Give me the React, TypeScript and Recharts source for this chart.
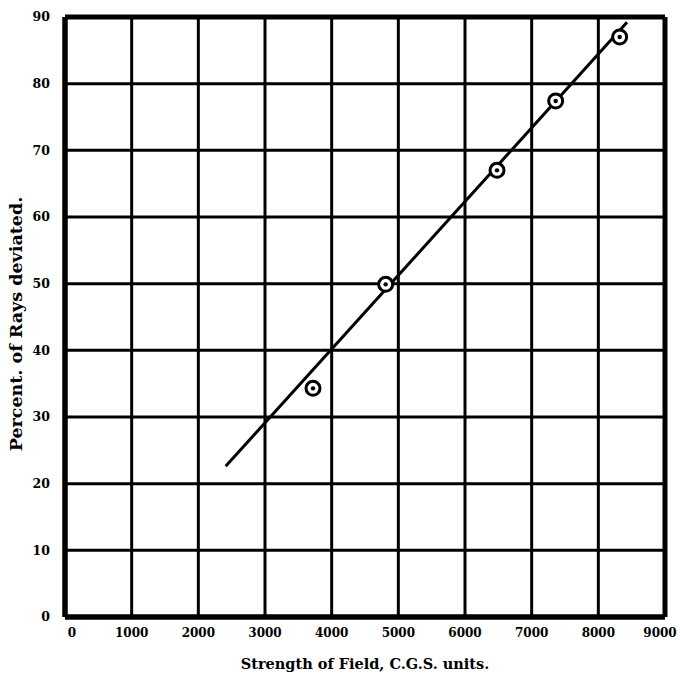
import {
  ComposedChart,
  Scatter,
  Line,
  XAxis,
  YAxis,
  CartesianGrid,
  ReferenceLine,
} from "recharts";

const fieldStrength = [3720, 4810, 6480, 7360, 8320];
const percentDeviated = [34.3, 49.9, 67.0, 77.4, 87.0];

const fitX = [2410, 8430];
const fitY = [22.6, 89.2];

const xTicks = [0, 1000, 2000, 3000, 4000, 5000, 6000, 7000, 8000, 9000];
const yTicks = [0, 10, 20, 30, 40, 50, 60, 70, 80, 90];

const points = fieldStrength.map((x, i) => ({ x, y: percentDeviated[i] }));
const fitLine = fitX.map((x, i) => ({ x, fit: fitY[i] }));

const font = "'DejaVu Serif', 'Liberation Serif', serif";

const RingDot = (props: any) => {
  const { cx, cy } = props;
  return (
    <g>
      <circle cx={cx} cy={cy} r={7} fill="white" stroke="black" strokeWidth={3} />
      <circle cx={cx} cy={cy} r={2.2} fill="black" />
    </g>
  );
};

// the printed labels sit a little inside the frame at both ends
const XTick = (props: any) => {
  const { x, y, payload } = props;
  let dx = 0;
  if (payload.value === 0) dx = 7;
  if (payload.value === 9000) dx = -5;
  return (
    <text
      x={x + dx}
      y={y}
      dy="0.71em"
      textAnchor="middle"
      fill="black"
      fontFamily={font}
      fontWeight="bold"
      fontSize={12}
    >
      {payload.value}
    </text>
  );
};

const YTitle = () => (
  <text
    x={16}
    y={324}
    transform="rotate(-90 16 324)"
    textAnchor="middle"
    dominantBaseline="central"
    fill="black"
    fontFamily={font}
    fontWeight="bold"
    fontSize={17.5}
  >
    Percent. of Rays deviated.
  </text>
);

const App = () => {
  return (
    <div style={{ position: "absolute", left: 0, top: 0, background: "white" }}>
      <ComposedChart
        width={680}
        height={679}
        margin={{ top: 17, right: 15, bottom: 32, left: 20 }}
      >
        <CartesianGrid stroke="black" strokeWidth={3} fill="white" />
        <XAxis
          type="number"
          dataKey="x"
          domain={[0, 9000]}
          ticks={xTicks}
          interval={0}
          height={30}
          axisLine={{ stroke: "black", strokeWidth: 5 }}
          tickLine={false}
          tickSize={0}
          tickMargin={11}
          tick={<XTick />}
          label={{
            value: "Strength of Field, C.G.S. units.",
            position: "insideBottom",
            offset: -22,
            fill: "black",
            fontFamily: font,
            fontWeight: "bold",
            fontSize: 14.5,
          }}
        />
        <YAxis
          type="number"
          domain={[0, 90]}
          ticks={yTicks}
          interval={0}
          width={45}
          axisLine={{ stroke: "black", strokeWidth: 5 }}
          tickLine={false}
          tickSize={0}
          tickMargin={15}
          tick={{ fill: "black", fontFamily: font, fontWeight: "bold", fontSize: 12.5 }}
          label={{ content: () => <YTitle /> }}
        />
        <ReferenceLine y={90} stroke="black" strokeWidth={5} />
        <ReferenceLine x={9000} stroke="black" strokeWidth={5} />
        <ReferenceLine x={0} stroke="black" strokeWidth={5} />
        <ReferenceLine y={0} stroke="black" strokeWidth={5} />
        <Line
          data={fitLine}
          dataKey="fit"
          type="linear"
          stroke="black"
          strokeWidth={3}
          dot={false}
          activeDot={false}
          isAnimationActive={false}
        />
        <Scatter
          data={points}
          dataKey="y"
          shape={<RingDot />}
          isAnimationActive={false}
        />
      </ComposedChart>
    </div>
  );
};

export default App;
